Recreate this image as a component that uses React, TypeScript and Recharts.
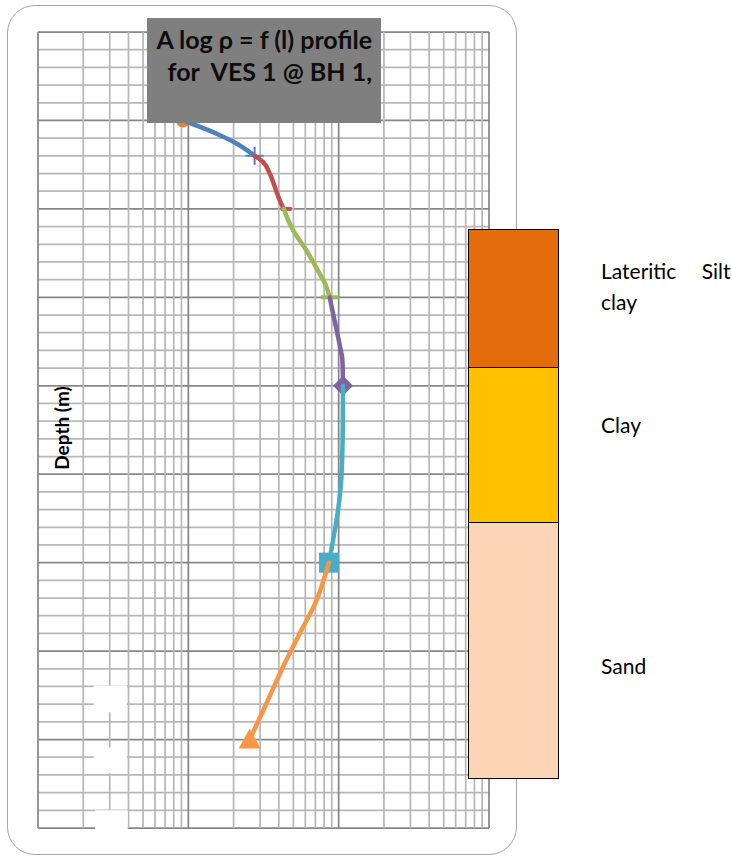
import React from 'react';
import { ScatterChart, Scatter, XAxis, YAxis, CartesianGrid, ReferenceArea } from 'recharts';

// apparent resistivity (ohm-m) against depth (m), one array per smoothed segment
const topPoint = [{ rho: 9.2, depth: 1.0 }];
const seg1 = [
  { rho: 9.2, depth: 1.0 },
  { rho: 15.4, depth: 1.15 },
  { rho: 20.9, depth: 1.26 },
  { rho: 27.6, depth: 1.4 },
];
const seg2 = [
  { rho: 27.6, depth: 1.4 },
  { rho: 31.4, depth: 1.47 },
  { rho: 34.8, depth: 1.6 },
  { rho: 37.6, depth: 1.75 },
  { rho: 40.5, depth: 1.9 },
  { rho: 43.1, depth: 2.0 },
];
const seg3 = [
  { rho: 43.1, depth: 2.0 },
  { rho: 49.7, depth: 2.24 },
  { rho: 61.0, depth: 2.47 },
  { rho: 72.9, depth: 2.7 },
  { rho: 82.9, depth: 2.88 },
  { rho: 87.2, depth: 3.0 },
];
const seg4 = [
  { rho: 87.2, depth: 3.0 },
  { rho: 91.7, depth: 3.18 },
  { rho: 101.6, depth: 3.54 },
  { rho: 105.9, depth: 3.71 },
  { rho: 106.9, depth: 4.0 },
];
const seg5 = [
  { rho: 106.9, depth: 4.0 },
  { rho: 106.5, depth: 4.47 },
  { rho: 104.3, depth: 5.03 },
  { rho: 99.0, depth: 5.41 },
  { rho: 91.7, depth: 5.75 },
  { rho: 86.3, depth: 6.0 },
];
const seg6 = [
  { rho: 86.3, depth: 6.0 },
  { rho: 82.0, depth: 6.12 },
  { rho: 71.1, depth: 6.43 },
  { rho: 55.1, depth: 6.8 },
  { rho: 42.6, depth: 7.18 },
  { rho: 33.1, depth: 7.59 },
  { rho: 25.6, depth: 8.0 },
];

// log grid on the resistivity axis, 0.2 m steps on depth
const xTicks = [1, 2, 3, 4, 5, 6, 7, 8, 9, 10, 20, 30, 40, 50, 60, 70, 80, 90, 100, 200, 300, 400, 500, 600, 700, 800, 900, 1000];
const xMajor = [1, 10, 100, 1000];
const yTicks = [
  0, 0.2, 0.4, 0.6, 0.8, 1, 1.2, 1.4, 1.6, 1.8, 2, 2.2, 2.4, 2.6, 2.8, 3, 3.2, 3.4, 3.6, 3.8, 4, 4.2, 4.4, 4.6, 4.8,
  5, 5.2, 5.4, 5.6, 5.8, 6, 6.2, 6.4, 6.6, 6.8, 7, 7.2, 7.4, 7.6, 7.8, 8, 8.2, 8.4, 8.6, 8.8, 9,
];
const yMajor = [0, 1, 2, 3, 4, 5, 6, 7, 8, 9];

// blank label blocks left on the lower part of the grid
const blanks = [
  { x1: 2.35, x2: 3.9, y1: 7.39, y2: 7.69 },
  { x1: 2.35, x2: 3.9, y1: 8.09, y2: 8.38 },
  { x1: 2.4, x2: 3.95, y1: 8.8, y2: 9.05 },
];

const layerNames = ['Lateritic  Silt clay', 'Clay', 'Sand'];

type Marker = 'circle' | 'plus' | 'dash' | 'wideDash' | 'diamond' | 'square' | 'triangle';

const series: { data: { rho: number; depth: number }[]; color: string; marker: Marker; line: boolean }[] = [
  { data: topPoint, color: '#E6843A', marker: 'circle', line: false },
  { data: seg1, color: '#4F81BD', marker: 'plus', line: true },
  { data: seg2, color: '#C0504D', marker: 'dash', line: true },
  { data: seg3, color: '#9BBB59', marker: 'wideDash', line: true },
  { data: seg4, color: '#8064A2', marker: 'diamond', line: true },
  { data: seg5, color: '#4BACC6', marker: 'square', line: true },
  { data: seg6, color: '#F79646', marker: 'triangle', line: true },
];

// marker only on the last point of each segment
const markerShape = (points: { rho: number; depth: number }[], color: string, kind: Marker) => (props: any) => {
  const { cx, cy, payload } = props;
  const last = points[points.length - 1];
  if (!payload || payload.depth !== last.depth || payload.rho !== last.rho) return <g />;
  switch (kind) {
    case 'circle':
      return <circle cx={cx} cy={cy} r={7} fill={color} />;
    case 'plus':
      return <path d={`M${cx - 9},${cy}h18M${cx},${cy - 9}v18`} stroke={color} strokeWidth={2} fill="none" />;
    case 'dash':
      return <rect x={cx - 3} y={cy - 2} width={11} height={4} fill={color} />;
    case 'wideDash':
      return <rect x={cx - 9} y={cy - 2} width={18} height={4} fill={color} />;
    case 'diamond':
      return <polygon points={`${cx},${cy - 10} ${cx + 10},${cy} ${cx},${cy + 10} ${cx - 10},${cy}`} fill={color} />;
    case 'square':
      return <rect x={cx - 10} y={cy - 10} width={20} height={20} fill={color} />;
    case 'triangle':
      return <polygon points={`${cx},${cy - 11} ${cx + 11},${cy + 9} ${cx - 11},${cy + 9}`} fill={color} />;
    default:
      return <g />;
  }
};

// map grid values through the axis' own scale
const applyScale = (axis: any, v: number) => {
  const s = axis?.scale;
  if (!s) return NaN;
  return typeof s === 'function' ? s(v) : s.map(v);
};
const horizontalAt = ({ yAxis }: any) => yTicks.map((v) => applyScale(yAxis, v)).filter((p) => Number.isFinite(p));
const verticalAt = ({ xAxis }: any) => xTicks.map((v) => applyScale(xAxis, v)).filter((p) => Number.isFinite(p));

// decade / whole-metre lines drawn darker
const gridLine = (majors: number[], ticks: number[], dir: string) => (props: any) => {
  const { x1, y1, x2, y2, index } = props;
  const major = majors.includes(ticks[index]);
  return (
    <line
      key={`g-${dir}-${index}`}
      x1={x1}
      y1={y1}
      x2={x2}
      y2={y2}
      stroke={major ? '#878787' : '#b8b8b8'}
      strokeWidth={1.75}
    />
  );
};

const W = 732;
const H = 857;
const labelFont = 'Lato, "Noto Sans", sans-serif';

export default function App() {
  const [w1, w2, w3] = layerNames[0].split(' ').filter(Boolean);
  return (
    <div style={{ position: 'absolute', left: 0, top: 0, width: W, height: H, background: '#fff', overflow: 'hidden' }}>
      {/* chart frame */}
      <div
        style={{
          position: 'absolute',
          left: 7,
          top: 5,
          width: 508,
          height: 848,
          border: '1.5px solid #a6a6a6',
          borderRadius: 28,
        }}
      />
      <div style={{ position: 'absolute', left: 0, top: 0 }}>
        <ScatterChart width={W} height={H} margin={{ top: 32, right: 243, bottom: 29, left: 38 }}>
          <CartesianGrid
            horizontal={gridLine(yMajor, yTicks, 'h')}
            vertical={gridLine(xMajor, xTicks, 'v')}
            horizontalCoordinatesGenerator={horizontalAt}
            verticalCoordinatesGenerator={verticalAt}
          />
          <XAxis type="number" dataKey="rho" scale="log" domain={[1, 1000]} ticks={xTicks} allowDataOverflow hide />
          <YAxis type="number" dataKey="depth" domain={[0, 9]} ticks={yTicks} reversed allowDataOverflow hide />
          {blanks.map((b, i) => (
            <ReferenceArea key={`b${i}`} x1={b.x1} x2={b.x2} y1={b.y1} y2={b.y2} fill="#ffffff" fillOpacity={1} stroke="none" ifOverflow="visible" />
          ))}
          {series.map((s, i) => (
            <Scatter
              key={i}
              data={s.data}
              fill={s.color}
              line={s.line ? { stroke: s.color, strokeWidth: 4.5, strokeLinecap: 'round' } : false}
              lineType="joint"
              lineJointType="monotoneY"
              shape={markerShape(s.data, s.color, s.marker)}
              isAnimationActive={false}
            />
          ))}
        </ScatterChart>
      </div>

      {/* title box */}
      <div
        style={{
          position: 'absolute',
          left: 147,
          top: 18,
          width: 234,
          height: 105,
          background: '#7f7f7f',
          boxSizing: 'border-box',
          paddingRight: 9,
          paddingTop: 5,
          textAlign: 'right',
          fontFamily: labelFont,
          fontWeight: 700,
          fontSize: 25,
          lineHeight: '32px',
          color: '#0d0d0d',
          whiteSpace: 'pre',
        }}
      >
        {'A log ρ = f (l) profile\nfor  VES 1 @ BH 1,'}
      </div>

      {/* axis title */}
      <div
        style={{
          position: 'absolute',
          left: 61,
          top: 428,
          transform: 'translate(-50%, -50%) rotate(-90deg)',
          fontFamily: labelFont,
          fontWeight: 700,
          fontSize: 19,
          whiteSpace: 'nowrap',
          color: '#000',
        }}
      >
        Depth (m)
      </div>

      {/* soil column */}
      <div style={{ position: 'absolute', left: 468, top: 229, width: 91, boxSizing: 'border-box', border: '1.5px solid #000' }}>
        <div style={{ height: 137, background: '#E46C0A', borderBottom: '1.5px solid #000' }} />
        <div style={{ height: 154, background: '#FFC000', borderBottom: '1.5px solid #000' }} />
        <div style={{ height: 255, background: '#FBD5B5' }} />
      </div>
      <svg width={W} height={H} style={{ position: 'absolute', left: 0, top: 0, pointerEvents: 'none' }}>
        <g fontFamily={labelFont} fontSize={21} fill="#000">
          <text x={601} y={279} wordSpacing={20}>
            {`${w1} ${w2}`}
          </text>
          <text x={601} y={310}>
            {w3}
          </text>
          <text x={601} y={433}>
            {layerNames[1]}
          </text>
          <text x={601} y={674}>
            {layerNames[2]}
          </text>
        </g>
      </svg>
    </div>
  );
}
